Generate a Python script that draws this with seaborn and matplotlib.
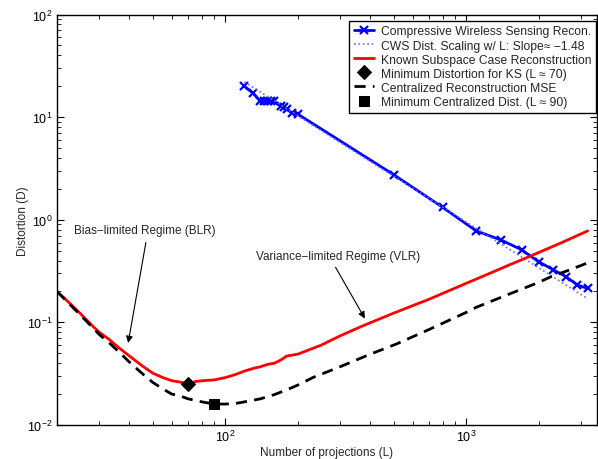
import matplotlib
matplotlib.use("Agg")
import matplotlib.pyplot as plt
import seaborn as sns

# ---------------- data ----------------
cws_L = [120, 130, 140, 145, 150, 155, 160, 170, 175, 180, 190, 200,
         500, 800, 1100, 1400, 1700, 2000, 2300, 2600, 2900, 3200]
cws_D = [20.0, 17.2, 14.3, 14.3, 14.3, 14.3, 14.2, 12.7, 12.5, 12.0, 10.9, 10.7,
         2.75, 1.32, 0.78, 0.634, 0.51, 0.39, 0.326, 0.279, 0.231, 0.214]

fit_L = [120, 3200]
fit_D = [22.0, 0.17]

ks_L = [20, 22, 25, 28, 30, 33, 36, 40, 45, 50, 55, 60, 65, 70, 75, 80, 90,
        100, 110, 120, 130, 140, 150, 160, 170, 180, 190, 200, 250, 300, 373,
        500, 706, 1000, 1102, 1500, 1838, 2500, 3200]
ks_D = [0.200, 0.163, 0.122, 0.093, 0.080, 0.068, 0.057, 0.047, 0.038, 0.032,
        0.029, 0.027, 0.0262, 0.025, 0.0265, 0.027, 0.0275, 0.029, 0.031,
        0.0335, 0.0355, 0.037, 0.039, 0.040, 0.043, 0.047, 0.048, 0.049,
        0.060, 0.074, 0.0927, 0.123, 0.169, 0.24, 0.264, 0.36, 0.44, 0.60, 0.78]

cen_L = [20, 22, 25, 28, 30, 33, 36, 40, 45, 50, 55, 60, 65, 70, 80, 90, 100,
         110, 120, 140, 160, 180, 200, 231, 300, 400, 513, 700, 1000, 1100,
         1469, 2000, 2290, 2600, 3200]
cen_D = [0.200, 0.160, 0.118, 0.090, 0.076, 0.063, 0.052, 0.041, 0.032, 0.026,
         0.0225, 0.020, 0.0192, 0.018, 0.0168, 0.016, 0.016, 0.0162, 0.0168,
         0.018, 0.0198, 0.022, 0.0245, 0.029, 0.037, 0.049, 0.0615, 0.085,
         0.125, 0.14, 0.184, 0.245, 0.284, 0.315, 0.38]

ks_min_L, ks_min_D = [70], [0.025]
cen_min_L, cen_min_D = [90], [0.016]

labels = ["Compressive Wireless Sensing Recon.",
          "CWS Dist. Scaling w/ L: Slope\u2248 \u22121.48",
          "Known Subspace Case Reconstruction",
          "Minimum Distortion for KS (L \u2248 70)",
          "Centralized Reconstruction MSE",
          "Minimum Centralized Dist. (L \u2248 90)"]

# ---------------- style ----------------
sns.set_style("ticks")
plt.rcParams.update({
    "font.family": ["Liberation Sans", "DejaVu Sans"],
    "xtick.direction": "in", "ytick.direction": "in",
    "xtick.top": True, "ytick.right": True,
    "xtick.major.size": 5, "ytick.major.size": 5,
    "xtick.minor.size": 3, "ytick.minor.size": 3,
    "xtick.color": "black", "ytick.color": "black",
    "axes.edgecolor": "black", "axes.linewidth": 1.0,
    "mathtext.default": "regular",
})

fig = plt.figure(figsize=(5.98, 4.60), dpi=100)
ax = fig.add_axes([0.0953, 0.0739, 0.9032, 0.8924])

ax.set_xscale("log")
ax.set_yscale("log")

sns.lineplot(x=cws_L, y=cws_D, ax=ax, color="#0000ff", lw=2, marker="x",
             markersize=6, markeredgewidth=1.6, markeredgecolor="#0000ff",
             estimator=None, sort=False)
l_cws = ax.lines[-1]
sns.lineplot(x=fit_L, y=fit_D, ax=ax, color="#6a6aff", lw=1.2, linestyle=":",
             estimator=None, sort=False)
l_fit = ax.lines[-1]
sns.lineplot(x=ks_L, y=ks_D, ax=ax, color="#ff0000", lw=2,
             estimator=None, sort=False)
l_ks = ax.lines[-1]
sns.lineplot(x=cen_L, y=cen_D, ax=ax, color="black", lw=2, linestyle="--",
             estimator=None, sort=False)
l_cen = ax.lines[-1]
l_cen.set_dashes([4, 2.6])
sns.lineplot(x=ks_min_L, y=ks_min_D, ax=ax, color="black", lw=0, marker="D",
             markersize=7, markeredgecolor="black", estimator=None)
l_ksmin = ax.lines[-1]
sns.lineplot(x=cen_min_L, y=cen_min_D, ax=ax, color="black", lw=0, marker="s",
             markersize=6.5, markeredgecolor="black", estimator=None)
l_cenmin = ax.lines[-1]

ax.set_xlim(20, 3500)
ax.set_ylim(1e-2, 1e2)
ax.tick_params(axis="both", which="major", labelsize=9, pad=3)
ax.set_xlabel("Number of projections (L)", fontsize=8.5, labelpad=1)
ax.set_ylabel("Distortion (D)", fontsize=8.5, labelpad=-1)

# annotations
ax.annotate("", xy=(39.5, 0.063), xytext=(46.8, 0.60),
            arrowprops=dict(arrowstyle="-|>", color="black", lw=0.8,
                            mutation_scale=10, shrinkA=0, shrinkB=0))
ax.text(46.5, 0.80, "Bias\u2212limited Regime (BLR)", fontsize=8.5,
        ha="center", va="center")
ax.annotate("", xy=(380, 0.109), xytext=(287, 0.344),
            arrowprops=dict(arrowstyle="-|>", color="black", lw=0.8,
                            mutation_scale=10, shrinkA=0, shrinkB=0))
ax.text(293, 0.44, "Variance\u2212limited Regime (VLR)", fontsize=8.5,
        ha="center", va="center")

leg = ax.legend([l_cws, l_fit, l_ks, l_ksmin, l_cen, l_cenmin], labels,
                loc="upper right", bbox_to_anchor=(0.998, 0.985),
                fontsize=8.7, frameon=True, fancybox=False,
                framealpha=1, edgecolor="black", handlelength=1.65,
                labelspacing=0.17, borderpad=0.4, handletextpad=0.55,
                numpoints=1, borderaxespad=0)
leg.get_frame().set_linewidth(1.0)

fig.savefig("out.png", dpi=100)
